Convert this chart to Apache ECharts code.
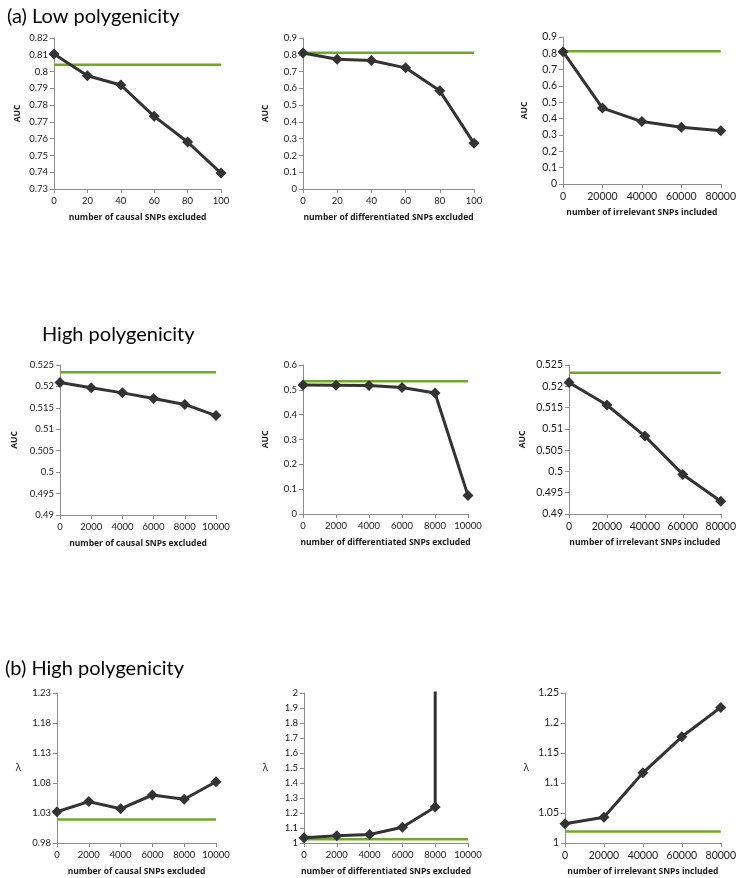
<!DOCTYPE html>
<html><head><meta charset="utf-8">
<script src="https://cdn.jsdelivr.net/npm/echarts@6/dist/echarts.min.js"></script>
<style>html,body{margin:0;padding:0;background:#fff}#c{width:739px;height:878px}</style>
</head><body><div id="c"></div>
<script>
// ---- data ----
const xPct = [0, 20, 40, 60, 80, 100];
const xIrrLow = [0, 20000, 40000, 60000, 80000];
const xHigh = [0, 2000, 4000, 6000, 8000, 10000];
const xIrrHigh = [0, 20000, 40000, 60000, 80000];

const aucLowCausal = [0.8105, 0.7975, 0.792, 0.7733, 0.758, 0.7395];
const aucLowDiff = [0.81, 0.773, 0.766, 0.722, 0.585, 0.272];
const aucLowIrr = [0.81, 0.465, 0.382, 0.348, 0.326];
const aucHighCausal = [0.5209, 0.5197, 0.5185, 0.5172, 0.5158, 0.5132];
const aucHighDiff = [0.519, 0.518, 0.517, 0.509, 0.487, 0.074];
const aucHighIrr = [0.5209, 0.5156, 0.5083, 0.4993, 0.4930];
const lamCausal = [1.032, 1.049, 1.037, 1.06, 1.053, 1.082];
const lamDiff = [1.035, 1.048, 1.057, 1.105, 1.24];
const lamDiffBlowupX = 8000, lamDiffBlowupY = 50; // lambda explodes past the axis top
const lamIrr = [1.032, 1.043, 1.117, 1.177, 1.226];

const refAucLowCausal = 0.804, refAucLowDiff = 0.812, refAucLowIrr = 0.812;
const refAucHighCausal = 0.5233, refAucHighDiff = 0.535, refAucHighIrr = 0.5232;
const refLamCausal = 1.019, refLamDiff = 1.025, refLamIrr = 1.019;

const xNames = ['number of causal SNPs excluded','number of differentiated SNPs excluded','number of irrelevant SNPs included'];
const titles = ['(a) Low polygenicity','High polygenicity','(b) High polygenicity'];

// ---- panels ----
const panels = [
  {g:{left:54,top:38,width:167,height:151}, x:xPct, xr:[0,100,20], y:aucLowCausal, ref:refAucLowCausal, yr:[0.73,0.82,0.01], yn:'AUC', ng:32, xn:0, fs:9},
  {g:{left:303,top:38,width:171,height:151}, x:xPct, xr:[0,100,20], y:aucLowDiff, ref:refAucLowDiff, yr:[0,0.9,0.1], yn:'AUC', ng:33, xn:1, fs:9},
  {g:{left:563,top:37,width:159,height:147}, x:xIrrLow, xr:[0,80000,20000], y:aucLowIrr, ref:refAucLowIrr, yr:[0,0.9,0.1], yn:'AUC', ng:34, xn:2, fs:10},
  {g:{left:60,top:365,width:156,height:150}, x:xHigh, xr:[0,10000,2000], y:aucHighCausal, ref:refAucHighCausal, yr:[0.49,0.525,0.005], yn:'AUC', ng:41, xn:0, fs:9},
  {g:{left:303,top:365,width:165,height:149}, x:xHigh, xr:[0,10000,2000], y:aucHighDiff, ref:refAucHighDiff, yr:[0,0.6,0.1], yn:'AUC', ng:33, xn:1, fs:9},
  {g:{left:569,top:365,width:156,height:149}, x:xIrrHigh, xr:[0,80000,20000], y:aucHighIrr, ref:refAucHighIrr, yr:[0.49,0.525,0.005], yn:'AUC', ng:42, xn:2, fs:10},
  {g:{left:57,top:693,width:159,height:150}, x:xHigh, xr:[0,10000,2000], y:lamCausal, ref:refLamCausal, yr:[0.98,1.23,0.05], yn:'λ', ng:36, xn:0, fs:9},
  {g:{left:304,top:693,width:164,height:150}, x:xHigh, xr:[0,10000,2000], y:lamDiff, ref:refLamDiff, yr:[1,2,0.1], yn:'λ', ng:36, xn:1, fs:9, blow:true},
  {g:{left:565,top:693,width:160,height:150}, x:xIrrHigh, xr:[0,80000,20000], y:lamIrr, ref:refLamIrr, yr:[1,1.25,0.05], yn:'λ', ng:36, xn:2, fs:10}
];

function ticks(a,b,s){const r=[];const n=Math.round((b-a)/s);for(let i=0;i<=n;i++)r.push(+(a+i*s).toFixed(4));return r;}

const grid=[],xAxis=[],yAxis=[],series=[];
const txt='#1a1a1a', axc='#8c8c8c';
const font='Lato, "Open Sans", "Liberation Sans", sans-serif';
panels.forEach((p,i)=>{
  grid.push(p.g);
  const xt=ticks(p.xr[0],p.xr[1],p.xr[2]);
  xAxis.push({type:'value',gridIndex:i,min:p.xr[0],max:p.xr[1],interval:p.xr[2],
    name:xNames[p.xn],nameLocation:'middle',nameGap:24,
    nameTextStyle:{fontSize:8.5,fontWeight:'bold',color:txt,fontFamily:'"Open Sans", sans-serif'},
    splitLine:{show:false},
    axisLine:{lineStyle:{color:axc,width:1}},
    axisTick:{show:true,length:4,lineStyle:{color:axc},customValues:xt},
    axisLabel:{fontSize:p.fs+0.5,color:txt,margin:7,fontFamily:font,customValues:xt,
      formatter:v=>String(Math.round(v))}});
  const yt=ticks(p.yr[0],p.yr[1],p.yr[2]);
  yAxis.push({type:'value',gridIndex:i,min:p.yr[0],max:p.yr[1],
    name:p.yn,nameLocation:'middle',nameGap:p.ng,nameRotate:p.yn==='λ'?0:90,
    nameTextStyle:{fontSize:p.yn==='λ'?10:8.5,fontWeight:p.yn==='λ'?'normal':'bold',color:txt,fontFamily:'"Open Sans", sans-serif'},
    splitLine:{show:false},
    axisLine:{show:true,lineStyle:{color:axc,width:1}},
    axisTick:{show:true,length:4,lineStyle:{color:axc},customValues:yt},
    axisLabel:{fontSize:p.fs+0.5,color:txt,margin:6,fontFamily:font,customValues:yt,
      formatter:v=>String(+v.toFixed(4))}});
  series.push({type:'line',xAxisIndex:i,yAxisIndex:i,silent:true,
    data:[[p.xr[0],p.ref],[p.xr[1],p.ref]],symbol:'none',
    lineStyle:{color:'#72a828',width:2.5},z:2});
  const d=p.y.map((v,k)=>[p.x[k],v]);
  if(p.blow) d.push({value:[lamDiffBlowupX,lamDiffBlowupY],symbol:'none'});
  series.push({type:'line',xAxisIndex:i,yAxisIndex:i,silent:true,data:d,clip:true,
    symbol:'diamond',symbolSize:11,itemStyle:{color:'#333333'},
    lineStyle:{color:'#333333',width:3},z:3});
});

const chart=echarts.init(document.getElementById('c'),null,{renderer:'canvas'});
const tStyle={fontSize:20,fontWeight:'normal',color:'#000',fontFamily:font};
chart.setOption({
  animation:false,backgroundColor:'#fff',
  title:[
    {text:titles[0],left:2,top:2,textStyle:tStyle},
    {text:titles[1],left:37,top:320,textStyle:tStyle},
    {text:titles[2],left:0,top:654,textStyle:tStyle}
  ],
  grid,xAxis,yAxis,series
});
</script></body></html>
